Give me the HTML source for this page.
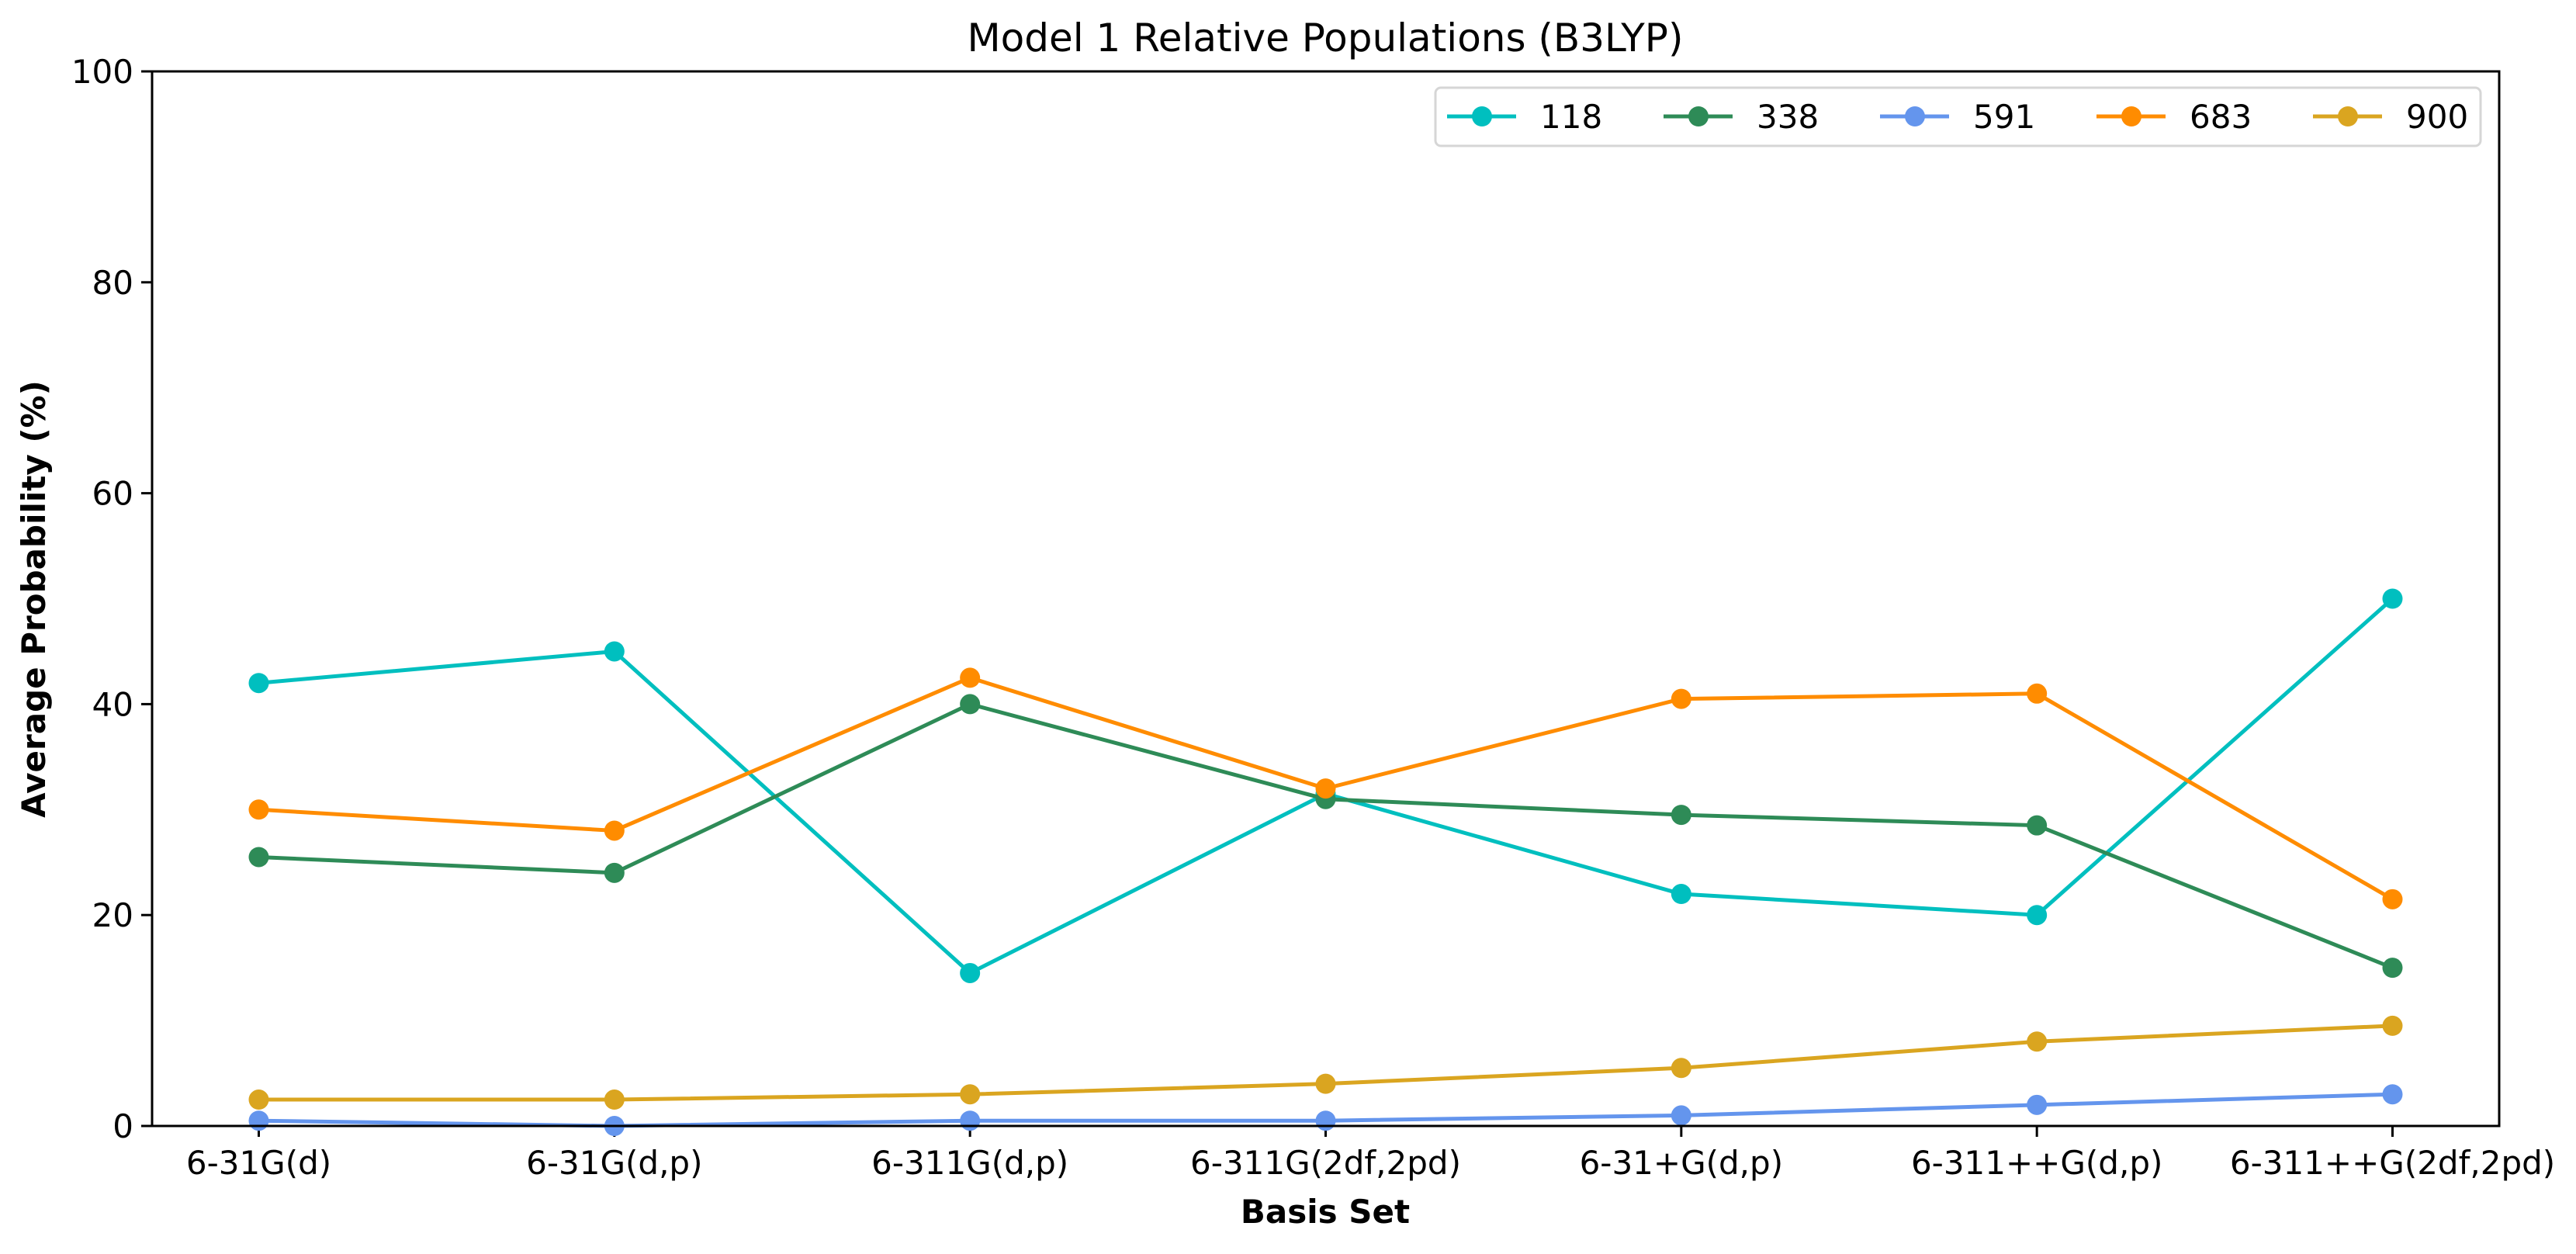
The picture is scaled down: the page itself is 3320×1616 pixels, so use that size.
<!DOCTYPE html>
<html><head><meta charset="utf-8"><style>
body{margin:0;background:#fff}
svg text{font-family:"DejaVu Sans","Liberation Sans",sans-serif}
</style></head><body>
<svg id="chart" width="3320" height="1611" viewBox="0 0 3320 1611" xmlns="http://www.w3.org/2000/svg">
<text x="1708" y="66" font-size="50" text-anchor="middle">Model 1 Relative Populations (B3LYP)</text>
<g id="plot"></g>
<text x="1708" y="1576" font-size="42" font-weight="bold" text-anchor="middle">Basis Set</text>
<text transform="translate(58,772) rotate(-90)" font-size="42" font-weight="bold" text-anchor="middle">Average Probability (%)</text>
</svg>
<script>
const categories=["6-31G(d)","6-31G(d,p)","6-311G(d,p)","6-311G(2df,2pd)","6-31+G(d,p)","6-311++G(d,p)","6-311++G(2df,2pd)"];
const seriesNames=["118","338","591","683","900"];
const s118=[42,45,14.5,31.5,22,20,50];
const s338=[25.5,24,40,31,29.5,28.5,15];
const s591=[0.5,0,0.5,0.5,1,2,3];
const s683=[30,28,42.5,32,40.5,41,21.5];
const s900=[2.5,2.5,3,4,5.5,8,9.5];
const yTicks=[0,20,40,60,80,100];
const colors=["#00bfbf","#2e8b57","#6495ed","#ff8c00","#daa520"];
const L=196,R=3221,T=92,B=1451;
const x=i=>L+(R-L)*(i+0.3)/6.6;
const y=v=>B-(B-T)*v/100;
const NS="http://www.w3.org/2000/svg";
const g=document.getElementById('plot');
function mk(t,a){const e=document.createElementNS(NS,t);for(const k in a)e.setAttribute(k,a[k]);g.appendChild(e);return e;}
yTicks.forEach(v=>{
 const t=mk('line',{x1:L-14,x2:L,y1:y(v),y2:y(v),stroke:'#000','stroke-width':3});
 
 
 const tx=mk('text',{x:L-24,y:y(v)+15,'font-size':42,'text-anchor':'end'});tx.textContent=v;
 
 
});
categories.forEach((c,i)=>{
 const t=mk('line',{x1:x(i),x2:x(i),y1:B,y2:B+14,stroke:'#000','stroke-width':3});
 
 
 const tx=mk('text',{x:x(i),y:B+62,'font-size':42,'text-anchor':'middle'});tx.textContent=c;
 
 
});
const all=[s118,s338,s591,s683,s900];
all.forEach((s,k)=>{
 const p=mk('polyline',{points:s.map((v,i)=>x(i)+','+y(v)).join(' '),fill:'none',stroke:colors[k],'stroke-width':5});
 
 
 s.forEach((v,i)=>{const c=mk('circle',{cx:x(i),cy:y(v),r:13,fill:colors[k]});
 
 });
});
const ax=mk('rect',{x:L,y:T,width:R-L,height:B-T,fill:'none',stroke:'#000','stroke-width':3});


const lg=mk('rect',{x:1850,y:113,width:1347,height:75,rx:7,fill:'#fff',stroke:'#d6d6d6','stroke-width':3,'fill-opacity':0.8});


seriesNames.forEach((n,k)=>{
 const x0=1865+k*279,yc=150;
 const l=mk('line',{x1:x0,x2:x0+89,y1:yc,y2:yc,stroke:colors[k],'stroke-width':5});
 
 
 const c=mk('circle',{cx:x0+45,cy:yc,r:13,fill:colors[k]});
 
 
 const t=mk('text',{x:x0+120,y:yc+15,'font-size':42});t.textContent=n;
 
 
});
</script>
</body></html>
